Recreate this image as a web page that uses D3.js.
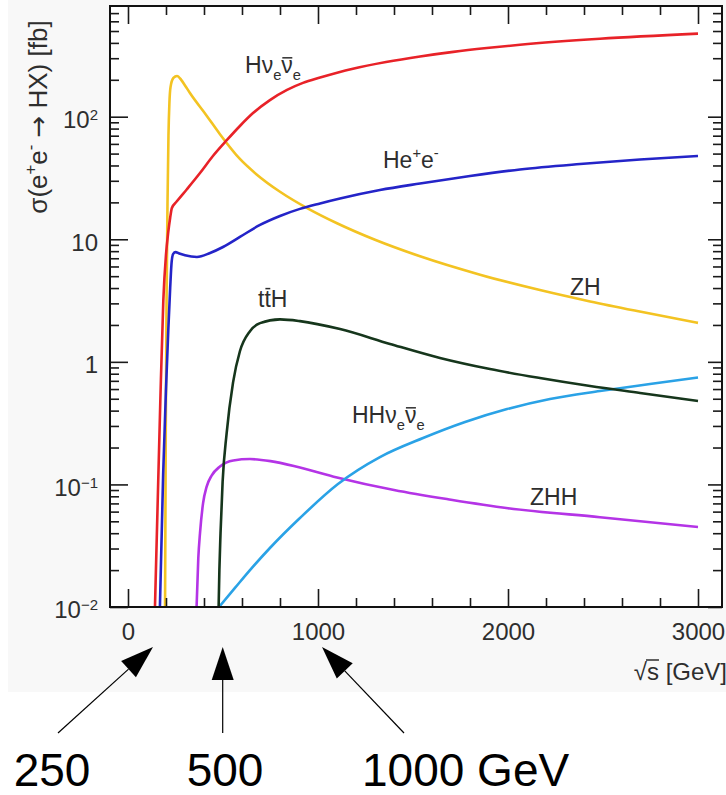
<!DOCTYPE html>
<html>
<head>
<meta charset="utf-8">
<script src="https://cdn.jsdelivr.net/npm/d3@7/dist/d3.min.js"></script>
<style>
  html, body { margin: 0; padding: 0; background: #fff; }
  svg { display: block; }
  text { font-family: "Liberation Sans", Arial, Helvetica, sans-serif; }
</style>
</head>
<body>
<svg id="chart" width="726" height="795"></svg>
<script>
// Higgs production cross sections in e+e- collisions versus sqrt(s), in fb.

// e+e- -> H nu_e nubar_e (WW fusion)
const hnnEnergy = [142, 155, 170, 186, 200, 212, 222, 231, 256, 310, 379, 447, 521, 589, 658, 747, 837, 921, 1011, 1184, 1358, 1537, 1712, 1888, 2063, 2484, 3000];
const hnnSigma  = [0.01, 0.06, 0.47, 3.2, 7.5, 11.5, 15, 18, 20.3, 25.6, 34.7, 47.8, 64.6, 84, 107, 136.6, 165.4, 188.7, 208.4, 246, 279, 310, 338, 363, 386, 432, 476];

// e+e- -> H e+ e- (ZZ fusion)
const heeEnergy = [168, 185, 200, 212, 222, 230, 238, 250, 270, 300, 363, 432, 500, 589, 695, 800, 905, 1011, 1116, 1326, 1537, 1800, 2063, 2379, 2695, 3000];
const heeSigma  = [0.01, 0.12, 0.6, 1.8, 4, 6.6, 7.6, 7.85, 7.65, 7.4, 7.17, 7.73, 8.65, 10.45, 13.1, 15.5, 17.7, 19.6, 21.5, 25.2, 28.5, 32.8, 37.1, 41.1, 44.7, 47.8];

// e+e- -> ZH (Higgsstrahlung)
const zhEnergy = [195, 199, 203, 208, 213, 218, 224, 239, 258, 280, 300, 326, 414, 484, 589, 677, 800, 950, 1100, 1300, 1537, 1853, 2168, 2432, 2700, 3000];
const zhSigma  = [0.01, 0.3, 3.2, 20, 70, 130, 175, 207, 215, 200, 180, 156, 102, 72, 45.2, 33.8, 24.4, 17.7, 13.5, 9.9, 7.26, 5.14, 3.85, 3.11, 2.56, 2.08];

// e+e- -> t tbar H
const tthEnergy = [477, 481, 487, 498, 519, 553, 589, 642, 695, 800, 905, 1116, 1379, 1642, 1905, 2168, 2432, 2695, 3000];
const tthSigma  = [0.01, 0.02, 0.04, 0.105, 0.26, 0.68, 1.22, 1.78, 2.07, 2.22, 2.15, 1.85, 1.40, 1.075, 0.873, 0.738, 0.635, 0.557, 0.479];

// e+e- -> HH nu_e nubar_e
const hhnnEnergy = [479, 563, 642, 747, 905, 1105, 1326, 1553, 1774, 1995, 2221, 2484, 2747, 3000];
const hhnnSigma  = [0.01, 0.0143, 0.02, 0.0303, 0.0532, 0.1007, 0.167, 0.239, 0.323, 0.412, 0.498, 0.578, 0.659, 0.745];

// e+e- -> ZHH
const zhhEnergy = [361, 370, 379, 395, 414, 440, 484, 554, 642, 750, 900, 1100, 1400, 1700, 2000, 2484, 3000];
const zhhSigma  = [0.01, 0.025, 0.04, 0.07, 0.096, 0.118, 0.14, 0.157, 0.161, 0.155, 0.138, 0.114, 0.09, 0.075, 0.064, 0.054, 0.045];

// Axis ticks
const xTickValues = [0, 1000, 2000, 3000];
const xTickLabels = ["0", "1000", "2000", "3000"];
const yTickValues = [0.01, 0.1, 1, 10, 100];
const yTickBase   = ["10", "10", "1", "10", "10"];
const yTickExp    = ["\u22122", "\u22121", "", "", "2"];

// Collider energies marked below the axis
const markerLabels = ["250", "500", "1000 GeV"];

// ---------------------------------------------------------------------------
const svg = d3.select("#chart");
const W = 726, H = 795;
const plot = { left: 110, top: 6, right: 722, bottom: 607 };

const x = d3.scaleLinear().domain([-94.7, 3126.3]).range([plot.left, plot.right]);
const y = d3.scaleLog().domain([0.01, 800]).range([plot.bottom, plot.top]);

const xMinor = d3.range(0, 3001, 200).filter(v => v % 1000 !== 0);
const yMinor = [];
for (let p = -2; p <= 2; p++) {
  for (let m = 2; m <= 9; m++) {
    const v = m * Math.pow(10, p);
    if (v < 800) yMinor.push(v);
  }
}

// Light backdrop behind the plot block
svg.append("rect").attr("x", 8).attr("y", 0).attr("width", W - 8).attr("height", 692).attr("fill", "#f8f8f8");
svg.append("rect")
  .attr("x", plot.left).attr("y", plot.top)
  .attr("width", plot.right - plot.left).attr("height", plot.bottom - plot.top)
  .attr("fill", "#fff");

svg.append("clipPath").attr("id", "plotClip")
  .append("rect")
  .attr("x", plot.left).attr("y", plot.top)
  .attr("width", plot.right - plot.left).attr("height", plot.bottom - plot.top);

// Curves
const series = [
  { energy: zhhEnergy,  sigma: zhhSigma,  color: "#b434e6" },
  { energy: hhnnEnergy, sigma: hhnnSigma, color: "#2aa2e6" },
  { energy: tthEnergy,  sigma: tthSigma,  color: "#16361c" },
  { energy: zhEnergy,   sigma: zhSigma,   color: "#f3c322" },
  { energy: heeEnergy,  sigma: heeSigma,  color: "#2424c8" },
  { energy: hnnEnergy,  sigma: hnnSigma,  color: "#e82228" }
];

const line = d3.line()
  .x(d => x(d[0]))
  .y(d => y(d[1]))
  .curve(d3.curveMonotoneX);

const curves = svg.append("g").attr("clip-path", "url(#plotClip)");
series.forEach(s => {
  curves.append("path")
    .datum(s.energy.map((e, i) => [e, s.sigma[i]]))
    .attr("fill", "none")
    .attr("stroke", s.color)
    .attr("stroke-width", 2.6)
    .attr("stroke-linejoin", "round")
    .attr("d", line);
});

// Axes: ticks point into the plot on all four sides
const tickColor = "#1a1a1a";
function styleAxis(g) {
  g.select(".domain").remove();
  g.selectAll(".tick line").attr("stroke", tickColor).attr("stroke-width", 1.6);
  g.selectAll(".tick text")
    .attr("fill", "#2e2e2e")
    .style("font-family", "'Liberation Sans', Arial, Helvetica, sans-serif")
    .style("font-size", "24px");
}

// bottom
svg.append("g").attr("transform", `translate(0,${plot.bottom})`)
  .call(d3.axisBottom(x).tickValues(xTickValues).tickSize(-18).tickPadding(16)
    .tickFormat((d, i) => xTickLabels[i]))
  .call(styleAxis);
svg.append("g").attr("transform", `translate(0,${plot.bottom})`)
  .call(d3.axisBottom(x).tickValues(xMinor).tickSize(-9).tickFormat(""))
  .call(styleAxis);
// top
svg.append("g").attr("transform", `translate(0,${plot.top})`)
  .call(d3.axisTop(x).tickValues(xTickValues).tickSize(-18).tickFormat(""))
  .call(styleAxis);
svg.append("g").attr("transform", `translate(0,${plot.top})`)
  .call(d3.axisTop(x).tickValues(xMinor).tickSize(-9).tickFormat(""))
  .call(styleAxis);
// left
const yAxisG = svg.append("g").attr("transform", `translate(${plot.left},0)`)
  .call(d3.axisLeft(y).tickValues(yTickValues).tickSize(-18).tickPadding(12).tickFormat(""))
  .call(styleAxis);
svg.append("g").attr("transform", `translate(${plot.left},0)`)
  .call(d3.axisLeft(y).tickValues(yMinor).tickSize(-9).tickFormat(""))
  .call(styleAxis);
// right
svg.append("g").attr("transform", `translate(${plot.right},0)`)
  .call(d3.axisRight(y).tickValues(yTickValues).tickSize(-14).tickFormat(""))
  .call(styleAxis);
svg.append("g").attr("transform", `translate(${plot.right},0)`)
  .call(d3.axisRight(y).tickValues(yMinor).tickSize(-9).tickFormat(""))
  .call(styleAxis);

// Power-of-ten labels on the y axis
yAxisG.selectAll(".tick text").each(function(d, i) {
  const t = d3.select(this).text(null).attr("dy", "0.45em");
  t.append("tspan").text(yTickBase[i]);
  if (yTickExp[i]) {
    t.append("tspan").attr("dy", -8).style("font-size", "15px").text(yTickExp[i]);
  }
});

// Frame
svg.append("rect")
  .attr("x", plot.left).attr("y", plot.top)
  .attr("width", plot.right - plot.left).attr("height", plot.bottom - plot.top)
  .attr("fill", "none").attr("stroke", "#111").attr("stroke-width", 2);

// Rich text helper: parts may be subscripts, superscripts or carry an overbar
function richText(parent, px, py, parts, size, color) {
  const t = parent.append("text")
    .attr("x", px).attr("y", py)
    .attr("fill", color)
    .style("font-size", size + "px");
  let shift = 0;
  const bars = [];
  let idx = 0;
  parts.forEach(p => {
    let target = 0, fs = size;
    if (p.sub) { target = 0.32 * size; fs = 0.64 * size; }
    if (p.sup) { target = -0.42 * size; fs = 0.64 * size; }
    const ts = t.append("tspan").text(p.t).style("font-size", fs + "px");
    if (p.font) ts.style("font-family", p.font);
    if (target !== shift) { ts.attr("dy", target - shift); shift = target; }
    if (p.bar) bars.push({ index: idx, lift: p.bar });
    idx += p.t.length;
  });
  const node = t.node();
  bars.forEach(b => {
    const r = node.getExtentOfChar(b.index);
    parent.append("line")
      .attr("x1", r.x + 1).attr("x2", r.x + r.width - 0.5)
      .attr("y1", py - b.lift * size).attr("y2", py - b.lift * size)
      .attr("stroke", color).attr("stroke-width", 1.5);
  });
  return t;
}

const labelColor = "#2e2e2e";
const labels = svg.append("g");
richText(labels, 245, 73, [{ t: "H" }, { t: "\u03bd" }, { t: "e", sub: true }, { t: "\u03bd", bar: 0.66 }, { t: "e", sub: true }], 23, labelColor);
richText(labels, 383, 168, [{ t: "He" }, { t: "+", sup: true }, { t: "e" }, { t: "-", sup: true }], 23, labelColor);
richText(labels, 570, 295, [{ t: "ZH" }], 23, labelColor);
richText(labels, 258, 307, [{ t: "t" }, { t: "t", bar: 0.8 }, { t: "H" }], 23, labelColor);
richText(labels, 352, 423, [{ t: "HH" }, { t: "\u03bd" }, { t: "e", sub: true }, { t: "\u03bd", bar: 0.66 }, { t: "e", sub: true }], 23, labelColor);
richText(labels, 530, 505, [{ t: "ZHH" }], 23, labelColor);

// Axis titles
const yTitle = svg.append("g").attr("transform", "translate(47,117) rotate(-90)");
richText(yTitle, 0, 0, [
  { t: "\u03c3(e" }, { t: "+", sup: true }, { t: "e" }, { t: "-", sup: true },
  { t: " " }, { t: "\u2192", font: "'DejaVu Sans', sans-serif" }, { t: " HX) [fb]" }
], 26, labelColor).attr("text-anchor", "middle");

const xTitle = richText(svg.append("g"), 0, 680, [{ t: "\u221as [GeV]" }], 24, labelColor);
{
  const bb = xTitle.node().getBBox();
  xTitle.attr("x", 727 - bb.width);
  const root = xTitle.node().getExtentOfChar(0);
  const s = xTitle.node().getExtentOfChar(1);
  svg.append("line")
    .attr("x1", root.x + root.width - 1).attr("x2", s.x + s.width)
    .attr("y1", root.y + 2).attr("y2", root.y + 2)
    .attr("stroke", labelColor).attr("stroke-width", 1.5);
}

// Collider energy arrows and labels
const ann = svg.append("g");
function arrow(x1, y1, x2, y2) {
  const dx = x2 - x1, dy = y2 - y1, len = Math.hypot(dx, dy);
  const ux = dx / len, uy = dy / len, hl = 33, hw = 11;
  const bx = x2 - ux * hl, by = y2 - uy * hl;
  ann.append("line").attr("x1", x1).attr("y1", y1).attr("x2", bx).attr("y2", by)
    .attr("stroke", "#000").attr("stroke-width", 1.2);
  ann.append("path")
    .attr("d", `M${x2},${y2}L${bx - uy * hw},${by + ux * hw}L${bx + uy * hw},${by - ux * hw}Z`)
    .attr("fill", "#000");
}
arrow(58, 733, 153, 647);
arrow(222.7, 733, 222.7, 647);
arrow(404, 733, 322, 647);

const markerPos = [{ x: 52, anchor: "middle" }, { x: 225, anchor: "middle" }, { x: 362, anchor: "start" }];
markerLabels.forEach((m, i) => {
  ann.append("text")
    .attr("x", markerPos[i].x).attr("y", 786)
    .attr("text-anchor", markerPos[i].anchor)
    .attr("fill", "#000")
    .style("font-size", "46px")
    .text(m);
});
</script>
</body>
</html>
